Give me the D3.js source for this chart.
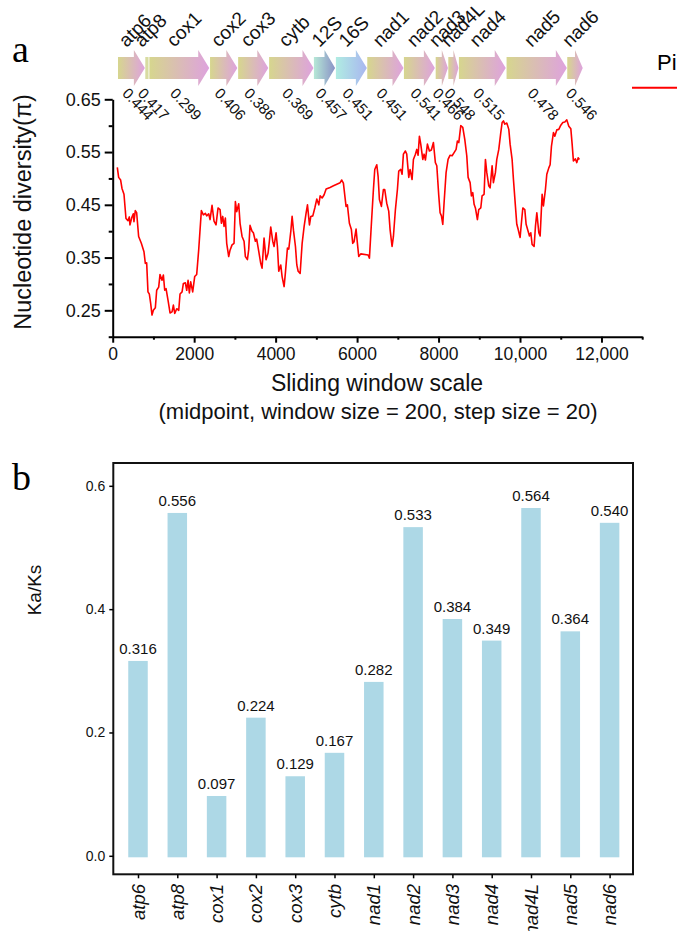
<!DOCTYPE html>
<html><head><meta charset="utf-8">
<script src="https://cdn.jsdelivr.net/npm/d3@7"></script>
<style>body{margin:0;background:#fff;} svg{display:block;font-family:Arial,"Liberation Sans",sans-serif;}</style>
</head><body><svg id="c" width="677" height="931"></svg>
<script>
// ---------- data: panel a ----------
const geneNames = ["atp6","atp8","cox1","cox2","cox3","cytb","12S","16S","nad1","nad2","nad3","nad4L","nad4","nad5","nad6"];
const geneStart = [130,800,900,2390,3080,3840,4940,5480,6250,7150,7930,8240,8500,9670,11160];
const geneEnd   = [790,880,2370,3060,3820,4930,5460,6240,7140,7910,8230,8490,9650,11150,11540];
const geneType  = ["p","p8","p","p","p","p","r12","r16","p","p","p","p","p","p","p"];
const genePi    = ["0.444","0.417","0.299","0.406","0.386","0.369","0.457","0.451","0.451","0.541","0.466","0.548","0.515","0.478","0.546"];

const piPos = [113,146,195,228,277,326,375,408,424,473,506,522,555,588,637,703,768,801,834,866,899,932,965,998,1047,1080,1129,1162,1211,1244,1277,1310,1359,1408,1457,1490,1523,1572,1621,1653,1703,1735,1784,1817,1850,1882,1915,1964,2013,2062,2111,2144,2177,2226,2275,2308,2357,2390,2439,2488,2537,2586,2636,2668,2701,2734,2766,2799,2848,2881,2930,2979,3012,3045,3094,3127,3176,3225,3257,3307,3339,3372,3421,3454,3503,3535,3585,3634,3667,3716,3765,3814,3847,3880,3929,3962,4011,4044,4077,4126,4159,4208,4241,4290,4323,4372,4405,4438,4487,4520,4553,4602,4651,4700,4750,4782,4831,4864,4913,4962,5011,5060,5093,5142,5191,5240,5336,5420,5584,5623,5664,5729,5762,5811,5860,5893,5926,5975,6008,6041,6090,6270,6303,6352,6401,6434,6483,6516,6548,6597,6646,6679,6728,6777,6810,6859,6892,6941,6990,7023,7072,7105,7137,7186,7219,7269,7301,7350,7383,7432,7465,7498,7530,7563,7613,7645,7678,7727,7775,7824,7874,7922,7957,8006,8038,8071,8104,8136,8185,8234,8284,8333,8382,8431,8463,8497,8546,8595,8644,8693,8726,8775,8807,8840,8873,8905,8954,8987,9037,9069,9118,9151,9185,9233,9266,9315,9347,9396,9430,9479,9528,9561,9593,9626,9676,9725,9757,9806,9839,9887,9921,9953,10002,10035,10069,10118,10150,10199,10232,10265,10297,10346,10379,10413,10462,10494,10543,10575,10624,10658,10707,10739,10772,10821,10854,10903,10952,11002,11051,11100,11149,11198,11248,11280,11311,11360,11395,11427,11459];
const piVal = [0.521,0.502,0.497,0.481,0.470,0.424,0.420,0.427,0.412,0.427,0.433,0.418,0.439,0.435,0.390,0.377,0.361,0.339,0.340,0.285,0.281,0.263,0.241,0.250,0.255,0.288,0.294,0.318,0.307,0.317,0.288,0.291,0.269,0.245,0.247,0.260,0.244,0.253,0.250,0.281,0.285,0.301,0.302,0.288,0.307,0.283,0.304,0.285,0.314,0.318,0.364,0.402,0.439,0.431,0.434,0.429,0.433,0.422,0.449,0.419,0.412,0.444,0.441,0.415,0.428,0.409,0.425,0.377,0.352,0.364,0.374,0.377,0.456,0.437,0.452,0.415,0.390,0.381,0.352,0.346,0.365,0.411,0.400,0.397,0.381,0.385,0.362,0.339,0.330,0.387,0.346,0.358,0.381,0.408,0.381,0.371,0.397,0.371,0.324,0.336,0.314,0.295,0.322,0.368,0.366,0.399,0.428,0.402,0.371,0.336,0.324,0.320,0.377,0.409,0.435,0.450,0.412,0.428,0.429,0.444,0.461,0.450,0.467,0.463,0.469,0.480,0.483,0.486,0.492,0.497,0.491,0.447,0.450,0.415,0.403,0.377,0.380,0.404,0.377,0.352,0.357,0.355,0.349,0.415,0.479,0.517,0.526,0.504,0.460,0.447,0.479,0.479,0.453,0.438,0.403,0.371,0.390,0.441,0.479,0.514,0.517,0.508,0.546,0.552,0.546,0.502,0.517,0.498,0.536,0.546,0.555,0.544,0.580,0.565,0.536,0.546,0.535,0.565,0.552,0.554,0.568,0.530,0.524,0.467,0.435,0.429,0.413,0.454,0.511,0.536,0.544,0.543,0.549,0.555,0.571,0.568,0.600,0.597,0.574,0.543,0.502,0.492,0.467,0.473,0.451,0.444,0.422,0.441,0.444,0.467,0.470,0.536,0.511,0.486,0.482,0.524,0.492,0.511,0.536,0.555,0.587,0.606,0.609,0.603,0.605,0.593,0.565,0.536,0.498,0.448,0.413,0.404,0.388,0.416,0.444,0.441,0.413,0.400,0.391,0.397,0.375,0.371,0.409,0.435,0.397,0.391,0.470,0.448,0.479,0.508,0.520,0.526,0.561,0.587,0.580,0.592,0.593,0.601,0.606,0.607,0.611,0.599,0.594,0.565,0.533,0.537,0.530,0.539,0.536];

const xMajorTicks = [0,2000,4000,6000,8000,10000,12000];
const xTickLabels = ["0","2000","4000","6000","8000","10,000","12,000"];
const xMinorTicks = [1000,3000,5000,7000,9000,11000,13000];
const yMajorTicks = [0.25,0.35,0.45,0.55,0.65];
const yMinorTicks = [0.2,0.3,0.4,0.5,0.6];

// ---------- data: panel b ----------
const kaksGenes  = ["atp6","atp8","cox1","cox2","cox3","cytb","nad1","nad2","nad3","nad4","nad4L","nad5","nad6"];
const kaksValues = [0.316,0.556,0.097,0.224,0.129,0.167,0.282,0.533,0.384,0.349,0.564,0.364,0.540];
const kaksTicks  = [0,0.2,0.4,0.6];

const svg = d3.select("#c");
const defs = svg.append("defs");
const FONT = 'Arial,"Liberation Sans",sans-serif';

// gradients
const grads = {
  p:   ["#d6d68e","#dea2de"],
  p8:  ["#d8dca2","#d8dca2"],
  r12: ["#b6e8d6","#8a92c6"],
  r16: ["#b0ece2","#a9b6f0"]
};
Object.entries(grads).forEach(([k,c])=>{
  const g = defs.append("linearGradient").attr("id","g_"+k).attr("x1","0%").attr("x2","100%").attr("y1","0%").attr("y2","0%");
  g.append("stop").attr("offset","0%").attr("stop-color",c[0]);
  g.append("stop").attr("offset","100%").attr("stop-color",c[1]);
});

// ---------- panel a ----------
const x = d3.scaleLinear().domain([0,13000]).range([112.7,642.2]);
const y = d3.scaleLinear().domain([0.2,0.65]).range([336.7,99.3]);

svg.append("text").attr("x",12).attr("y",62).attr("font-family","'Liberation Serif','Times New Roman',serif").attr("font-size",38).text("a");
svg.append("text").attr("x",12).attr("y",490).attr("font-family","'Liberation Serif','Times New Roman',serif").attr("font-size",38).text("b");

// gene arrows
const bTop=57, bBot=79, hTop=50, hBot=86;
const genes = geneNames.map((n,i)=>({n, s:geneStart[i], e:geneEnd[i], t:geneType[i], pi:genePi[i]}));
const ga = svg.append("g");
genes.forEach(g=>{
  const x0 = x(g.s), x1 = x(g.e), w = x1-x0;
  const hl = Math.min(11, w*0.5);
  const ym = (bTop+bBot)/2;
  let pts;
  if (g.t==="p8") pts = [[x0,bTop],[x1,bTop],[x1,bBot],[x0,bBot]];
  else pts = [[x0,bTop],[x1-hl,bTop],[x1-hl,hTop],[x1,ym],[x1-hl,hBot],[x1-hl,bBot],[x0,bBot]];
  ga.append("path").attr("d","M"+pts.map(p=>p.join(",")).join("L")+"Z").attr("fill","url(#g_"+g.t+")");
  const cx = (x0+x1)/2;
  ga.append("text").attr("transform",`translate(${cx-5},48) rotate(-45)`)
    .attr("font-size",19).attr("fill","#111").text(g.n);
  ga.append("text").attr("transform",`translate(${cx-10},94) rotate(47)`)
    .attr("font-size",15).attr("fill","#111").text(g.pi);
});

// legend
svg.append("text").attr("x",657).attr("y",70).attr("font-size",22).text("Pi");
svg.append("line").attr("x1",632).attr("x2",680).attr("y1",87.7).attr("y2",87.7).attr("stroke","#ff0000").attr("stroke-width",2);

// axes
const xAx = svg.append("g").attr("transform","translate(0,336.7)")
  .call(d3.axisBottom(x).tickValues(xMajorTicks).tickSize(6).tickSizeOuter(0).tickPadding(5)
    .tickFormat((d,i)=>xTickLabels[i]));
xAx.select(".domain").attr("stroke-width",2);
xAx.selectAll(".tick line").attr("stroke-width",2);
xAx.selectAll("text").attr("font-size",17.5).attr("font-family",FONT).attr("fill","#111");
svg.append("g").attr("transform","translate(0,336.7)")
  .call(d3.axisBottom(x).tickValues(xMinorTicks).tickSize(3).tickSizeOuter(0).tickFormat(""))
  .call(g=>{g.select(".domain").remove(); g.selectAll("line").attr("stroke-width",2);});

const yAx = svg.append("g").attr("transform","translate(112.7,0)")
  .call(d3.axisLeft(y).tickValues(yMajorTicks).tickSize(8).tickSizeOuter(0).tickPadding(4).tickFormat(d3.format(".2f")));
yAx.select(".domain").attr("stroke-width",2);
yAx.selectAll(".tick line").attr("stroke-width",2);
yAx.selectAll("text").attr("font-size",18).attr("font-family",FONT).attr("fill","#111");
svg.append("g").attr("transform","translate(112.7,0)")
  .call(d3.axisLeft(y).tickValues(yMinorTicks).tickSize(4).tickSizeOuter(0).tickFormat(""))
  .call(g=>{g.select(".domain").remove(); g.selectAll("line").attr("stroke-width",2);});

svg.append("text").attr("transform","translate(31,212) rotate(-90)").attr("text-anchor","middle")
  .attr("font-size",23.5).attr("fill","#111").text("Nucleotide diversity(π)");
svg.append("text").attr("x",377).attr("y",391).attr("text-anchor","middle").attr("font-size",23).attr("fill","#111").text("Sliding window scale");
svg.append("text").attr("x",378).attr("y",419).attr("text-anchor","middle").attr("font-size",22).attr("fill","#111").text("(midpoint, window size = 200, step size = 20)");

// line
const line = d3.line().x((d,i)=>x(piPos[i])).y((d,i)=>y(piVal[i]));
svg.append("path").datum(piVal).attr("d",line).attr("fill","none").attr("stroke","#ff0000").attr("stroke-width",1.6).attr("stroke-linejoin","round");

// ---------- panel b ----------
const kx = d3.scalePoint().domain(kaksGenes).range([138,609.6]);
const ky = d3.scaleLinear().domain([-0.03,0.637]).range([874.3,463]);
const bw = 19.5;
const bx0 = 113.3, bx1 = 633;

svg.append("g").selectAll("rect").data(kaksGenes).join("rect")
  .attr("x",d=>kx(d)-bw/2).attr("width",bw)
  .attr("y",(d,i)=>ky(kaksValues[i])).attr("height",(d,i)=>ky(0)+1.5-ky(kaksValues[i]))
  .attr("fill","#add8e6");
svg.append("g").selectAll("text").data(kaksGenes).join("text")
  .attr("x",d=>kx(d)).attr("y",(d,i)=>ky(kaksValues[i])-7).attr("text-anchor","middle")
  .attr("font-size",15).attr("fill","#111").text((d,i)=>kaksValues[i].toFixed(3));

svg.append("rect").attr("x",bx0).attr("y",463).attr("width",bx1-bx0).attr("height",874.3-463)
  .attr("fill","none").attr("stroke","#111").attr("stroke-width",2);

const kyAx = svg.append("g").attr("transform",`translate(${bx0},0)`)
  .call(d3.axisLeft(ky).tickValues(kaksTicks).tickSize(4).tickPadding(4).tickFormat(d3.format(".1f")));
kyAx.select(".domain").remove();
kyAx.selectAll("line").attr("stroke-width",1.5);
kyAx.selectAll("text").attr("font-size",14).attr("font-family",FONT).attr("fill","#111");

const kxAx = svg.append("g").attr("transform","translate(0,874.3)")
  .call(d3.axisBottom(kx).tickSize(4).tickFormat(""));
kxAx.select(".domain").remove();
kxAx.selectAll("line").attr("stroke-width",1.5);

svg.append("g").selectAll("text").data(kaksGenes).join("text")
  .attr("transform",d=>`translate(${kx(d)+6.5},884) rotate(-90)`)
  .attr("text-anchor","end").attr("font-size",18.5).attr("font-style","italic").attr("fill","#111")
  .text(d=>d);

svg.append("text").attr("transform","translate(41,590) rotate(-90)").attr("text-anchor","middle")
  .attr("font-size",19).attr("fill","#111").text("Ka/Ks");
</script></body></html>
